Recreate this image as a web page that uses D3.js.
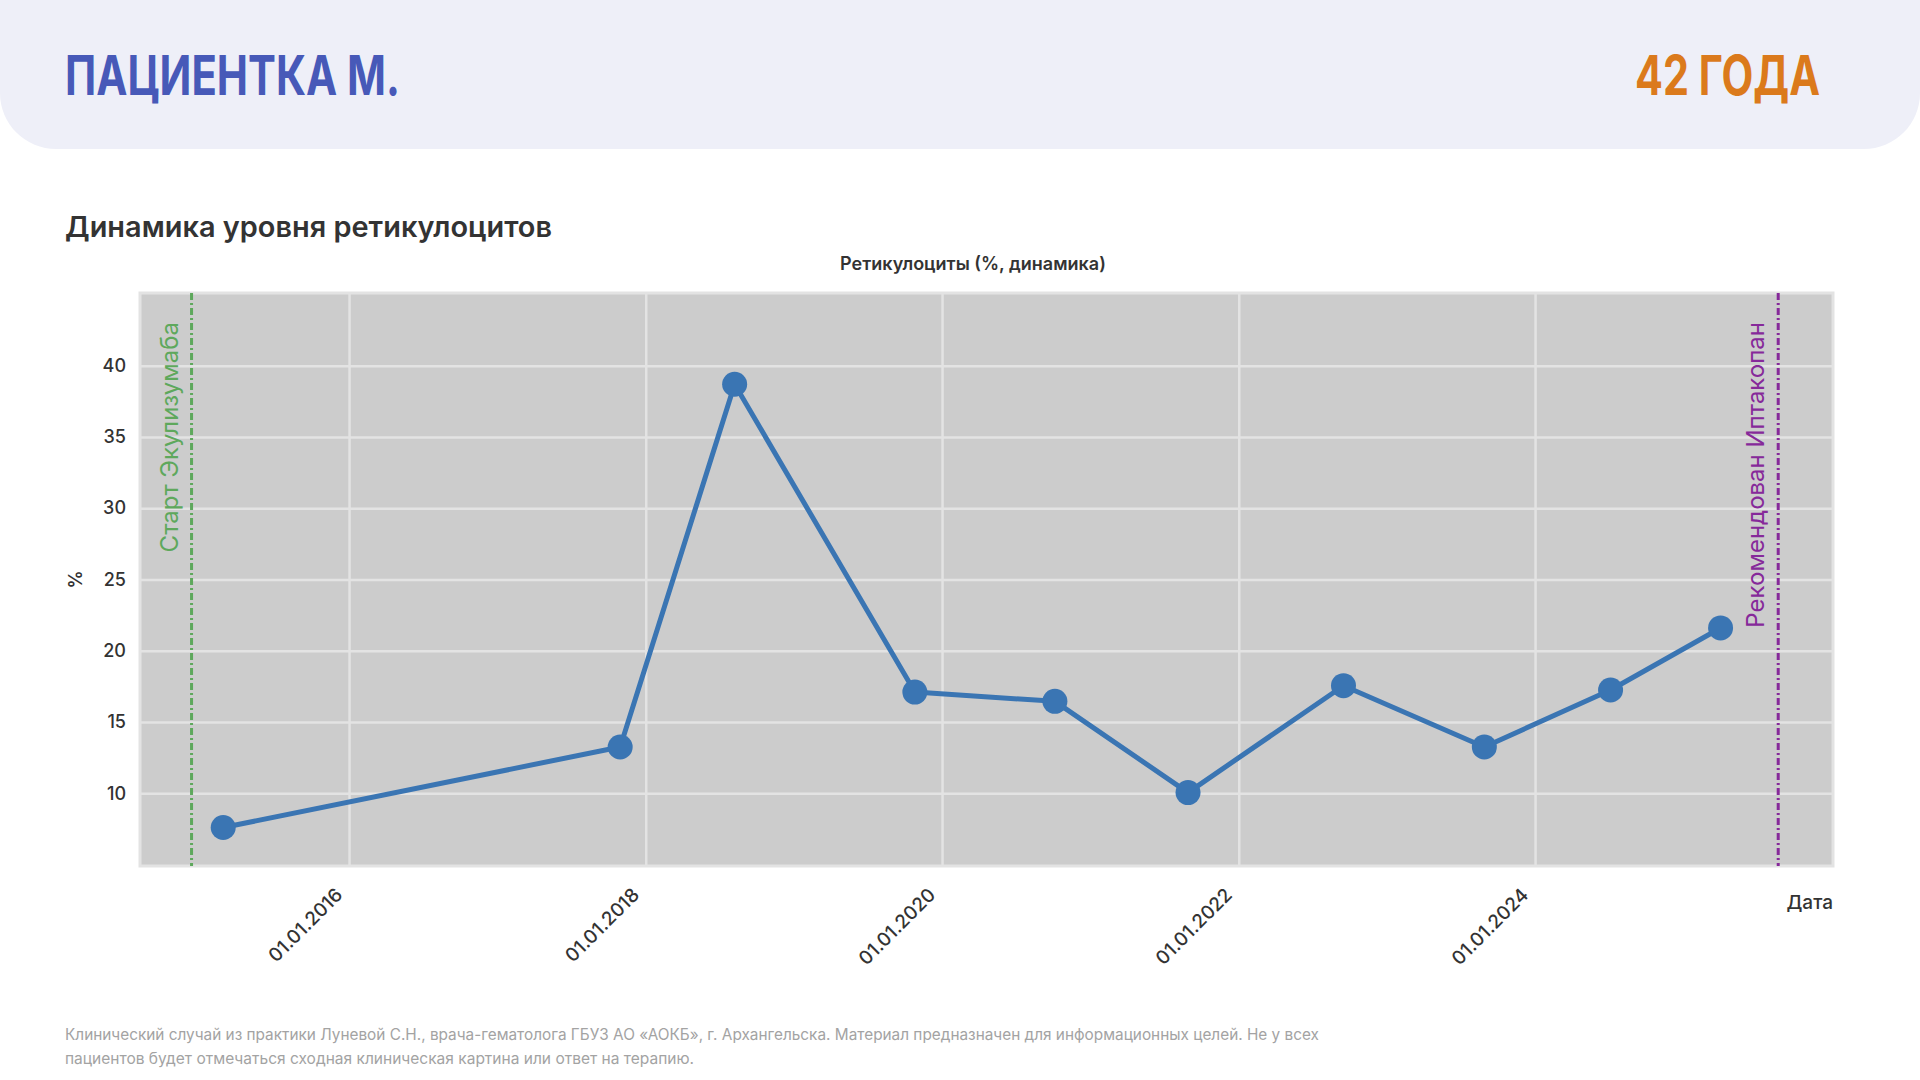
<!DOCTYPE html>
<html>
<head>
<meta charset="utf-8">
<script src="https://cdn.jsdelivr.net/npm/d3@7"></script>
<style>
  body { margin: 0; background: #fff; }
  svg { display: block; }
  text { font-family: Inter, "Noto Sans", Roboto, sans-serif; }
</style>
</head>
<body>
<script>
// data
var visitDates = ["2015-02-25", "2017-10-30", "2018-08-08", "2019-10-26", "2020-10-05",
                  "2021-08-29", "2022-09-16", "2023-08-29", "2024-07-05", "2025-04-02"];
var reticValues = [7.6, 13.25, 38.7, 17.1, 16.45, 10.05, 17.55, 13.25, 17.25, 21.6];
var eventDates = ["2014-12-09", "2025-08-22"];
var eventLabels = ["Старт Экулизумаба", "Рекомендован Иптакопан"];
var eventColors = ["#5ea85c", "#86299a"];
var xTickYears = [2016, 2018, 2020, 2022, 2024];
var yTicks = [10, 15, 20, 25, 30, 35, 40];
var footerLines = [
  "Клинический случай из практики Луневой С.Н., врача-гематолога  ГБУЗ АО «АОКБ», г. Архангельска. Материал предназначен для информационных целей. Не у всех",
  "пациентов будет отмечаться сходная клиническая картина или ответ на терапию."
];

var W = 1920, H = 1080;
var plot = {left: 140, right: 1833, top: 293, bottom: 866};
var parse = d3.timeParse("%Y-%m-%d");
var points = visitDates.map(function(d, i) { return {date: parse(d), value: reticValues[i]}; });

var svg = d3.select("body").append("svg")
  .attr("width", W)
  .attr("height", H);

// header band
svg.append("rect")
  .attr("x", 0).attr("y", -60)
  .attr("width", W).attr("height", 209)
  .attr("rx", 56)
  .attr("fill", "#eeeff8");

svg.append("text")
  .attr("x", 65).attr("y", 95)
  .attr("font-family", "Roboto")
  .attr("font-weight", 700)
  .attr("font-size", 55)
  .attr("textLength", 335)
  .attr("lengthAdjust", "spacingAndGlyphs")
  .attr("fill", "#4759b8")
  .text("ПАЦИЕНТКА М.");

svg.append("text")
  .attr("x", 1820).attr("y", 95)
  .attr("text-anchor", "end")
  .attr("font-family", "Roboto")
  .attr("font-weight", 700)
  .attr("font-size", 55)
  .attr("textLength", 185)
  .attr("lengthAdjust", "spacingAndGlyphs")
  .attr("fill", "#db7a1c")
  .text("42 ГОДА");

svg.append("text")
  .attr("x", 65).attr("y", 237)
  .attr("font-weight", 600)
  .attr("font-size", 28)
  .attr("textLength", 487)
  .attr("lengthAdjust", "spacingAndGlyphs")
  .attr("fill", "#333")
  .text("Динамика уровня ретикулоцитов");

// scales
var x = d3.scaleTime()
  .domain([parse("2014-08-04"), parse("2026-01-04")])
  .range([plot.left, plot.right]);
var y = d3.scaleLinear()
  .domain([4.9, 45.1])
  .range([plot.bottom, plot.top]);

svg.append("rect")
  .attr("x", plot.left).attr("y", plot.top)
  .attr("width", plot.right - plot.left)
  .attr("height", plot.bottom - plot.top)
  .attr("fill", "#cccccc")
  .attr("stroke", "#e3e3e3")
  .attr("stroke-width", 3);

var xTickDates = xTickYears.map(function(yr) { return new Date(yr, 0, 1); });

// grid
svg.append("g")
  .attr("transform", "translate(0," + plot.bottom + ")")
  .call(d3.axisBottom(x).tickValues(xTickDates).tickSize(-(plot.bottom - plot.top)).tickFormat(""))
  .call(function(g) {
    g.select(".domain").remove();
    g.selectAll("line").attr("stroke", "#e3e3e3").attr("stroke-width", 2.5);
  });
svg.append("g")
  .attr("transform", "translate(" + plot.left + ",0)")
  .call(d3.axisLeft(y).tickValues(yTicks).tickSize(-(plot.right - plot.left)).tickFormat(""))
  .call(function(g) {
    g.select(".domain").remove();
    g.selectAll("line").attr("stroke", "#e3e3e3").attr("stroke-width", 2.5);
  });

// axis labels
svg.append("g")
  .attr("transform", "translate(" + plot.left + ",0)")
  .call(d3.axisLeft(y).tickValues(yTicks).tickSize(0).tickPadding(14))
  .call(function(g) {
    g.select(".domain").remove();
    g.selectAll("text")
      .attr("font-family", "Inter, Roboto, sans-serif")
      .attr("font-size", 18)
      .attr("font-weight", 500)
      .attr("fill", "#333");
  });

svg.append("g")
  .attr("transform", "translate(0," + plot.bottom + ")")
  .call(d3.axisBottom(x).tickValues(xTickDates).tickSize(0).tickFormat(d3.timeFormat("%d.%m.%Y")))
  .call(function(g) {
    g.select(".domain").remove();
    g.selectAll("text")
      .attr("font-family", "Inter, Roboto, sans-serif")
      .attr("font-size", 19)
      .attr("font-weight", 500)
      .attr("fill", "#333")
      .attr("text-anchor", "end")
      .attr("transform", "translate(-18,18) rotate(-45)")
      .attr("dy", "0.9em")
      .attr("y", 0);
  });

svg.append("text")
  .attr("x", 76).attr("y", (plot.top + plot.bottom) / 2)
  .attr("transform", "rotate(-90,76," + (plot.top + plot.bottom) / 2 + ")")
  .attr("text-anchor", "middle")
  .attr("dy", "0.35em")
  .attr("font-size", 18)
  .attr("font-weight", 600)
  .attr("fill", "#333")
  .text("%");

svg.append("text")
  .attr("x", plot.right).attr("y", 909)
  .attr("text-anchor", "end")
  .attr("font-size", 19)
  .attr("font-weight", 500)
  .attr("fill", "#333")
  .text("Дата");

svg.append("text")
  .attr("x", 973).attr("y", 270)
  .attr("text-anchor", "middle")
  .attr("font-size", 18)
  .attr("font-weight", 600)
  .attr("fill", "#333")
  .text("Ретикулоциты (%, динамика)");

// event lines
eventDates.forEach(function(d, i) {
  var ex = x(parse(d));
  svg.append("line")
    .attr("x1", ex).attr("x2", ex)
    .attr("y1", plot.top).attr("y2", plot.bottom)
    .attr("stroke", eventColors[i])
    .attr("stroke-width", 3)
    .attr("stroke-dasharray", "7,3,2,3");
  svg.append("text")
    .attr("transform", "translate(" + (ex - 14) + "," + (plot.top + 29) + ") rotate(-90)")
    .attr("text-anchor", "end")
    .attr("font-family", "Liberation Sans, Arial, sans-serif")
    .attr("font-size", 24)
    .attr("fill", eventColors[i])
    .text(eventLabels[i]);
});

// series
var line = d3.line()
  .x(function(d) { return x(d.date); })
  .y(function(d) { return y(d.value); });

svg.append("path")
  .datum(points)
  .attr("d", line)
  .attr("fill", "none")
  .attr("stroke", "#3a75b3")
  .attr("stroke-width", 5)
  .attr("stroke-linejoin", "round");

svg.selectAll("circle.pt")
  .data(points)
  .enter()
  .append("circle")
  .attr("class", "pt")
  .attr("cx", function(d) { return x(d.date); })
  .attr("cy", function(d) { return y(d.value); })
  .attr("r", 12.5)
  .attr("fill", "#3a75b3");

// footer
svg.selectAll("text.foot")
  .data(footerLines)
  .enter()
  .append("text")
  .attr("class", "foot")
  .attr("x", 65)
  .attr("y", function(d, i) { return 1040 + i * 24; })
  .attr("font-size", 15.5)
  .attr("fill", "#a3a3a3")
  .attr("textLength", function(d, i) { return i === 0 ? 1254 : 629; })
  .attr("lengthAdjust", "spacingAndGlyphs")
  .text(function(d) { return d; });
</script>
</body>
</html>
